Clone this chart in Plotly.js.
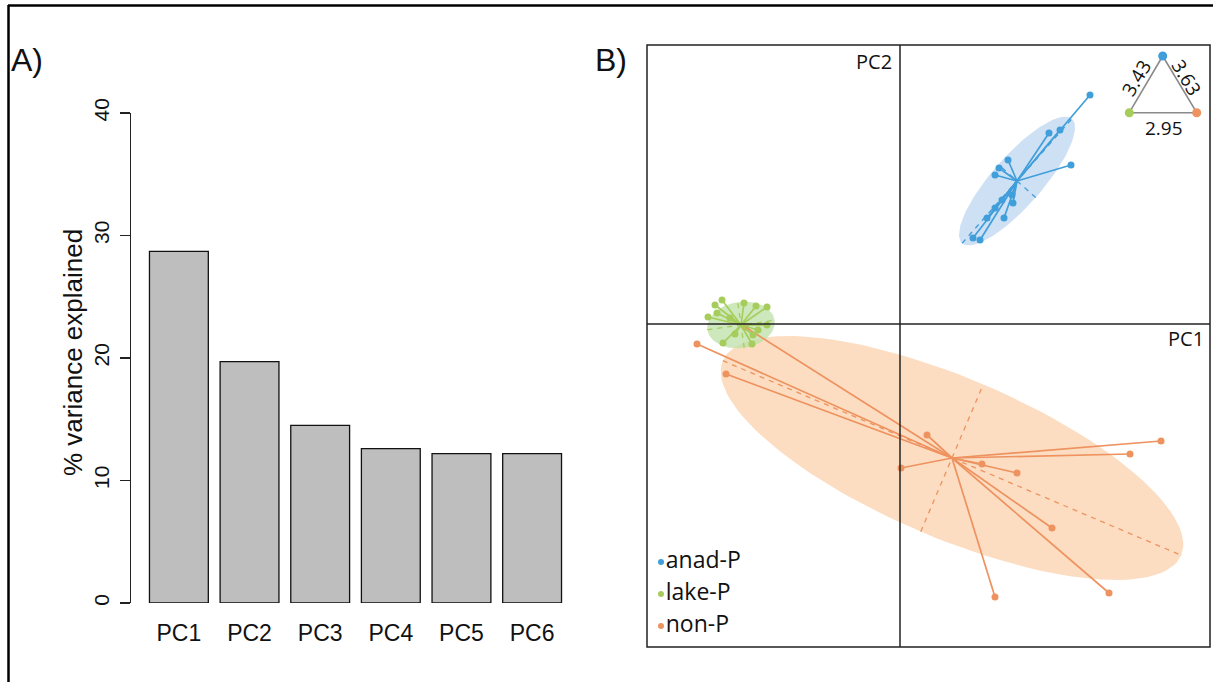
<!DOCTYPE html>
<html>
<head>
<meta charset="utf-8">
<script src="https://cdn.plot.ly/plotly-3.0.1.min.js"></script>
<style>html,body{margin:0;padding:0;background:#fff;}#chart{width:1213px;height:682px;}</style>
</head>
<body>
<div id="chart"></div>
<script>
// ---------- Panel A data ----------
const pcLabels = ['PC1', 'PC2', 'PC3', 'PC4', 'PC5', 'PC6'];
const varExplained = [28.7, 19.7, 14.5, 12.6, 12.2, 12.2];
const yTickVals = [0, 10, 20, 30, 40];

// ---------- Panel B data (discriminant scores) ----------
const groupNames = ['anad-P', 'lake-P', 'non-P'];
const groupColors = ['#409edb', '#a6cd5b', '#ee925f'];
const fillColors = ['rgba(190,214,240,0.75)', 'rgba(188,224,165,0.75)', 'rgba(251,212,178,0.8)'];

const anadX = [1.90, 1.60, 1.49, 1.71, 1.08, 0.99, 0.95, 1.04, 1.13, 1.12, 0.73, 0.80, 0.87, 0.95, 1.02];
const anadY = [2.29, 1.94, 1.91, 1.59, 1.64, 1.56, 1.49, 1.06, 1.21, 1.29, 0.86, 0.84, 1.06, 1.16, 1.24];
const lakeX = [-1.78, -1.85, -1.92, -1.83, -1.56, -1.44, -1.33, -1.33, -1.42, -1.47, -1.48, -1.77, -1.65, -1.70];
const lakeY = [0.24, 0.19, 0.07, 0.11, 0.21, 0.18, 0.17, -0.01, -0.06, -0.11, -0.20, -0.19, -0.10, 0.06];
const nonX = [2.61, 2.30, 1.17, 0.82, 0.27, 0.01, 1.52, 2.09, 0.95, -2.03, -1.74, -1.55];
const nonY = [-1.17, -1.30, -1.49, -1.40, -1.11, -1.44, -2.04, -2.69, -2.73, -0.20, -0.50, -0.03];

const centroidX = [1.17, -1.59, 0.52];
const centroidY = [1.43, -0.01, -1.34];
// inertia ellipses: semi-major, semi-minor, orientation (deg)
const ellipseMajor = [0.83, 0.34, 2.49];
const ellipseMinor = [0.25, 0.23, 0.80];
const ellipseAngle = [48.6, 8, -23];

// distance triangle between group centroids
const distLabels = ['3.43', '3.63', '2.95'];

// ---------- helpers ----------
const W = 1213, H = 682;
const px = x => x / W;
const py = y => 1 - y / H;

const traces = [];

traces.push({
  type: 'bar', x: pcLabels, y: varExplained, xaxis: 'x', yaxis: 'y',
  marker: {color: '#bebebe', line: {color: '#111', width: 1.3}},
  hoverinfo: 'x+y', showlegend: false
});

const ptsX = [anadX, lakeX, nonX];
const ptsY = [anadY, lakeY, nonY];
const drawOrder = [2, 1, 0];

function ellipsePath(g) {
  const xs = [], ys = [];
  const t = ellipseAngle[g] * Math.PI / 180;
  for (let i = 0; i <= 120; i++) {
    const u = 2 * Math.PI * i / 120;
    const ex = ellipseMajor[g] * Math.cos(u), ey = ellipseMinor[g] * Math.sin(u);
    xs.push(centroidX[g] + ex * Math.cos(t) - ey * Math.sin(t));
    ys.push(centroidY[g] + ex * Math.sin(t) + ey * Math.cos(t));
  }
  return [xs, ys];
}

drawOrder.forEach(g => {
  const [ex, ey] = ellipsePath(g);
  traces.push({
    type: 'scatter', mode: 'lines', x: ex, y: ey, xaxis: 'x2', yaxis: 'y2',
    fill: 'toself', fillcolor: fillColors[g], line: {width: 0, color: 'rgba(0,0,0,0)'},
    hoverinfo: 'skip', showlegend: false
  });
});

drawOrder.forEach(g => {
  const t = ellipseAngle[g] * Math.PI / 180;
  const cx = centroidX[g], cy = centroidY[g];
  const a = ellipseMajor[g], b = ellipseMinor[g];
  traces.push({
    type: 'scatter', mode: 'lines', xaxis: 'x2', yaxis: 'y2',
    x: [cx - a * Math.cos(t), cx + a * Math.cos(t), null, cx + b * Math.sin(t), cx - b * Math.sin(t)],
    y: [cy - a * Math.sin(t), cy + a * Math.sin(t), null, cy - b * Math.cos(t), cy + b * Math.cos(t)],
    line: {color: groupColors[g], width: 1.3, dash: '5px,5px'},
    hoverinfo: 'skip', showlegend: false
  });
});

drawOrder.forEach(g => {
  const sx = [], sy = [];
  ptsX[g].forEach((v, i) => {
    sx.push(centroidX[g], v, null);
    sy.push(centroidY[g], ptsY[g][i], null);
  });
  traces.push({
    type: 'scatter', mode: 'lines', x: sx, y: sy, xaxis: 'x2', yaxis: 'y2',
    line: {color: groupColors[g], width: 1.7}, hoverinfo: 'skip', showlegend: false
  });
  traces.push({
    type: 'scatter', mode: 'markers', x: ptsX[g], y: ptsY[g], xaxis: 'x2', yaxis: 'y2',
    marker: {color: groupColors[g], size: 7}, name: groupNames[g], showlegend: false
  });
});

// legend (custom, inside panel B)
traces.push({
  type: 'scatter', mode: 'markers+text', xaxis: 'x2', yaxis: 'y2',
  x: [-2.39, -2.39, -2.39], y: [-2.38, -2.70, -3.02],
  text: groupNames, textposition: 'middle right',
  textfont: {family: 'Open Sans', size: 23, color: '#111'},
  marker: {color: groupColors, size: 6}, hoverinfo: 'skip', showlegend: false
});

// distance triangle inset (pixel-space overlay axis)
const triX = [1162.7, 1129.3, 1196.7];
const triY = [56, 112.7, 112.7];
traces.push({
  type: 'scatter', mode: 'lines', xaxis: 'x3', yaxis: 'y3',
  x: [triX[0], triX[1], triX[2], triX[0]], y: [triY[0], triY[1], triY[2], triY[0]],
  line: {color: '#8a8a8a', width: 1.6}, hoverinfo: 'skip', showlegend: false
});
traces.push({
  type: 'scatter', mode: 'markers', xaxis: 'x3', yaxis: 'y3',
  x: triX, y: triY, marker: {color: groupColors, size: 9}, hoverinfo: 'skip', showlegend: false
});

const hidden = {showgrid: false, zeroline: false, showticklabels: false, showline: false, ticks: ''};

const layout = {
  width: W, height: H,
  margin: {l: 0, r: 0, t: 0, b: 0},
  paper_bgcolor: '#fff', plot_bgcolor: 'rgba(0,0,0,0)',
  showlegend: false,
  bargap: 0.167,
  font: {family: 'Liberation Sans', color: '#111'},
  xaxis: {
    domain: [px(131), px(580)], range: [-0.678, 5.678], anchor: 'y',
    showgrid: false, zeroline: false, showline: false,
    ticks: 'outside', ticklen: 9, tickcolor: 'rgba(0,0,0,0)',
    tickfont: {family: 'Liberation Sans', size: 23, color: '#111'}
  },
  yaxis: {
    domain: [py(603), py(113)], range: [0, 40], anchor: 'x',
    tickvals: yTickVals, ticktext: yTickVals.map(String),
    showgrid: false, zeroline: false, showline: true, linecolor: '#222', linewidth: 1.3,
    ticks: 'outside', ticklen: 10, tickwidth: 1.3, tickcolor: '#222', tickangle: -90,
    ticklabelstandoff: 2,
    tickfont: {family: 'Liberation Sans', size: 21, color: '#111'}
  },
  xaxis2: Object.assign({domain: [px(647), px(1210)], range: [-2.53, 3.10], anchor: 'y2'}, hidden),
  yaxis2: Object.assign({domain: [py(647), py(45)], range: [-3.23, 2.79], anchor: 'x2'}, hidden),
  xaxis3: Object.assign({domain: [0, 1], range: [0, W], anchor: 'y3'}, hidden),
  yaxis3: Object.assign({domain: [0, 1], range: [H, 0], anchor: 'x3'}, hidden),
  shapes: [
    // outer frame (top & left)
    {type: 'line', xref: 'paper', yref: 'paper', x0: px(8), x1: 1, y0: py(5.5), y1: py(5.5), line: {color: '#000', width: 2.5}},
    {type: 'line', xref: 'paper', yref: 'paper', x0: px(8.5), x1: px(8.5), y0: py(5), y1: 0, line: {color: '#000', width: 2.5}},
    // panel B box and axes cross
    {type: 'rect', xref: 'x2 domain', yref: 'y2 domain', x0: 0, x1: 1, y0: 0, y1: 1, line: {color: '#222', width: 1.5}, layer: 'above'},
    {type: 'line', xref: 'x2', yref: 'y2 domain', x0: 0, x1: 0, y0: 0, y1: 1, line: {color: '#222', width: 1.5}, layer: 'above'},
    {type: 'line', xref: 'x2 domain', yref: 'y2', x0: 0, x1: 1, y0: 0, y1: 0, line: {color: '#222', width: 1.5}, layer: 'above'}
  ],
  annotations: [
    {text: 'A)', xref: 'paper', yref: 'paper', x: px(9), y: py(60), xanchor: 'left', yanchor: 'middle', showarrow: false,
      font: {family: 'Liberation Sans', size: 32, color: '#111'}},
    {text: 'B)', xref: 'paper', yref: 'paper', x: px(593), y: py(60), xanchor: 'left', yanchor: 'middle', showarrow: false,
      font: {family: 'Liberation Sans', size: 32, color: '#111'}},
    {text: '% variance explained', xref: 'paper', yref: 'paper', x: px(73), y: py(353), xanchor: 'center', yanchor: 'middle',
      textangle: -90, showarrow: false, font: {family: 'Liberation Sans', size: 26, color: '#111'}},
    {text: 'PC2', xref: 'paper', yref: 'paper', x: px(894), y: py(61), xanchor: 'right', yanchor: 'middle', showarrow: false,
      font: {family: 'Open Sans', size: 20, color: '#111'}},
    {text: 'PC1', xref: 'paper', yref: 'paper', x: px(1206), y: py(338), xanchor: 'right', yanchor: 'middle', showarrow: false,
      font: {family: 'Open Sans', size: 20, color: '#111'}},
    {text: distLabels[0], xref: 'paper', yref: 'paper', x: px(1136), y: py(77.5), xanchor: 'center', yanchor: 'middle', textangle: -59, showarrow: false,
      font: {family: 'Open Sans', size: 19, color: '#111'}},
    {text: distLabels[1], xref: 'paper', yref: 'paper', x: px(1187), y: py(77.5), xanchor: 'center', yanchor: 'middle', textangle: 59, showarrow: false,
      font: {family: 'Open Sans', size: 19, color: '#111'}},
    {text: distLabels[2], xref: 'paper', yref: 'paper', x: px(1163.5), y: py(127.5), xanchor: 'center', yanchor: 'middle', showarrow: false,
      font: {family: 'Open Sans', size: 19, color: '#111'}}
  ]
};

Plotly.newPlot('chart', traces, layout, {staticPlot: true, displayModeBar: false});
</script>
</body>
</html>
